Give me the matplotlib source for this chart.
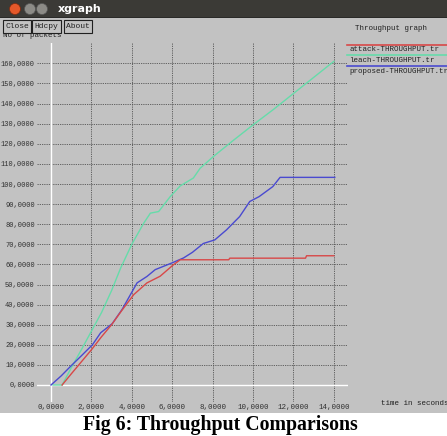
import matplotlib
matplotlib.use("Agg")
import matplotlib.pyplot as plt
from matplotlib.patches import Rectangle, Circle

# ---------------- data ----------------
attack_t = [0.55, 1.0, 1.5, 2.0, 2.5, 3.0, 3.5, 4.1, 4.75, 5.4, 6.07, 6.4, 8.8, 8.85, 12.6, 12.65, 14.0]
attack_v = [0, 5.5, 11.5, 17.5, 24, 30, 37, 45, 50.8, 54.1, 59.9, 62.3, 62.3, 63.1, 63.1, 64.3, 64.3]

leach_t = [0.1, 0.55, 1.0, 1.5, 2.05, 2.5, 3.0, 3.44, 4.0, 4.59, 4.92, 5.33, 5.9, 6.39, 7.05, 7.38,
           8.03, 9.0, 10.0, 11.0, 12.0, 13.0, 14.0]
leach_v = [0, 0, 8.5, 17.5, 27.7, 36, 47, 58, 70, 80.5, 85.5, 86.3, 93.7, 99, 103, 107.8,
           113.6, 121.5, 129.4, 137, 145, 153, 161]

proposed_t = [0, 0.5, 1.0, 1.5, 2.05, 2.46, 3.03, 3.52, 4.26, 4.75, 5.16, 5.98, 6.56, 7.0, 7.54,
              8.11, 8.69, 9.34, 9.84, 10.3, 10.98, 11.34, 14.05]
proposed_v = [0, 4.5, 9.6, 14.5, 20, 26, 30.5, 37.6, 50.8, 54, 57.4, 60.7, 63.2, 66, 70.4,
              72.2, 77.2, 83.8, 91.3, 93.7, 98.7, 103.3, 103.3]

series_names = ["attack-THROUGHPUT.tr", "leach-THROUGHPUT.tr", "proposed-THROUGHPUT.tr"]
series_colors = ["#d84848", "#66dcaa", "#4a4ad0"]

x_ticks = [0, 2, 4, 6, 8, 10, 12, 14]
x_tick_labels = ["0,0000", "2,0000", "4,0000", "6,0000", "8,0000", "10,0000", "12,0000", "14,0000"]
y_ticks = [0, 10, 20, 30, 40, 50, 60, 70, 80, 90, 100, 110, 120, 130, 140, 150, 160]
y_tick_labels = [f"{v},0000" for v in y_ticks]

# ---------------- figure ----------------
W, H = 447, 436
fig = plt.figure(figsize=(W / 100, H / 100), dpi=100)
GRAY = "#c2c2c2"
fig.patch.set_facecolor(GRAY)

# chrome axes in pixel coordinates
ax0 = fig.add_axes([0, 0, 1, 1])
ax0.set_xlim(0, W)
ax0.set_ylim(H, 0)
ax0.axis("off")
ax0.set_zorder(0)

mono = "Liberation Mono"
fs = 5.4

# title bar
ax0.add_patch(Rectangle((0, 0), W, 17, facecolor="#3b3a36", edgecolor="none"))
ax0.add_patch(Rectangle((0, 17), W, 1, facecolor="#2a2a28", edgecolor="none"))
ax0.add_patch(Circle((15, 9), 5.5, facecolor="#e4582a", edgecolor="#7a2a10", lw=0.5))
ax0.add_patch(Circle((30, 9), 5.5, facecolor="#8c8b86", edgecolor="#555", lw=0.5))
ax0.add_patch(Circle((42, 9), 5.5, facecolor="#8c8b86", edgecolor="#555", lw=0.5))
ax0.text(58, 9, "xgraph", color="white", fontsize=8, fontweight="bold",
         family="DejaVu Sans", va="center", ha="left")

# "No of packets" partially hidden by buttons
ax0.text(3, 35.5, "No of packets", family=mono, fontsize=fs, va="center", ha="left",
         color="#202020", zorder=1)
for (bx, bw, lab) in [(3, 28, "Close"), (32, 29, "Hdcpy"), (64, 28, "About")]:
    ax0.add_patch(Rectangle((bx, 20), bw, 13, facecolor=GRAY, edgecolor="#202020",
                            lw=0.8, zorder=2))
    ax0.text(bx + bw / 2, 26.5, lab, family=mono, fontsize=fs + 0.4, ha="center",
             va="center", color="#202020", zorder=3)

ax0.text(355, 29, "Throughput graph", family=mono, fontsize=fs, ha="left", va="center",
         color="#202020")

# legend (xgraph style: coloured line above name)
leg_line_y = [45, 55.5, 66.5]
leg_text_y = [49.5, 60.5, 71.5]
for name, col, ly, ty in zip(series_names, series_colors, leg_line_y, leg_text_y):
    ax0.plot([347, W], [ly, ly], color=col, lw=1.2)
    ax0.text(349, ty, name, family=mono, fontsize=fs, ha="left", va="center", color="#202020")

ax0.text(381, 403, "time in seconds", family=mono, fontsize=fs, ha="left", va="center",
         color="#202020")

# caption strip
ax0.add_patch(Rectangle((0, 413), W, H - 413, facecolor="white", edgecolor="none"))
ax0.text(220, 425, "Fig 6: Throughput Comparisons", family="Liberation Serif",
         fontweight="bold", fontsize=14.3, ha="center", va="center", color="black")

# ---------------- data axes ----------------
x0px, xs = 51.0, 20.2     # px of x=0, px per unit
y0px, ys = 385.0, 2.01    # px of y=0, px per unit
xl = (-0.69, 14.7)
yl = (-8.5, 170.0)
left = x0px + xl[0] * xs
right = x0px + xl[1] * xs
bottom_px = y0px - yl[0] * ys
top_px = y0px - yl[1] * ys
ax = fig.add_axes([left / W, 1 - bottom_px / H, (right - left) / W, (bottom_px - top_px) / H])
ax.set_zorder(1)
ax.patch.set_alpha(0)
ax.set_xlim(*xl)
ax.set_ylim(*yl)
for s in ax.spines.values():
    s.set_visible(False)

ax.set_xticks(x_ticks)
ax.set_xticklabels(x_tick_labels)
ax.set_yticks(y_ticks)
ax.set_yticklabels(y_tick_labels)
ax.tick_params(length=0, labelcolor="#303030")
ax.tick_params(axis="x", pad=1.5, labelsize=fs)
ax.tick_params(axis="y", pad=1.6, labelsize=5.0)
for lab in ax.get_xticklabels() + ax.get_yticklabels():
    lab.set_family(mono)

ax.grid(True, color="#555555", linestyle=(0, (1.5, 1.2)), linewidth=0.6)
ax.set_axisbelow(True)
ax.axhline(0, color="white", lw=1.0, zorder=1.5)
ax.axvline(0, color="white", lw=1.0, zorder=1.5)

ax.plot(leach_t, leach_v, color=series_colors[1], lw=1.0, zorder=3)
ax.plot(proposed_t, proposed_v, color=series_colors[2], lw=1.0, zorder=3)
ax.plot(attack_t, attack_v, color=series_colors[0], lw=1.0, zorder=3)

fig.savefig("out.png", dpi=100, facecolor=fig.get_facecolor())
